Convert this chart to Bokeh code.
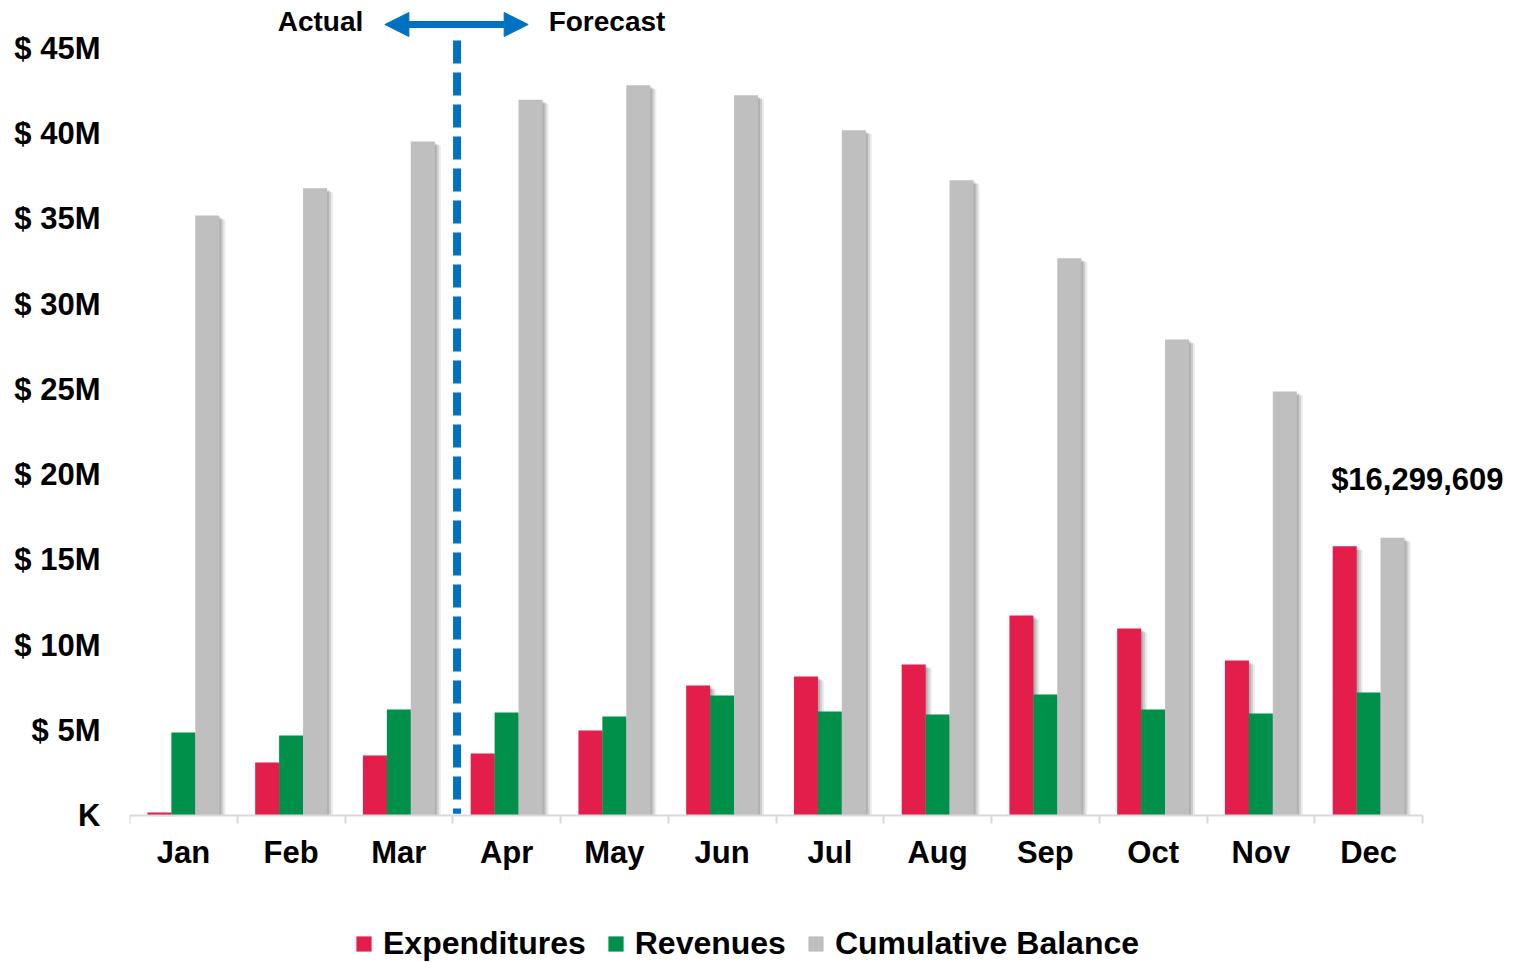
from bokeh.plotting import figure
from bokeh.models import (Range1d, FixedTicker, Label, Arrow, NormalHead,
                          Legend, LegendItem)
from bokeh.embed import file_html
from bokeh.resources import INLINE

# ---------------- data (values in $ millions) ----------------
months = ["Jan", "Feb", "Mar", "Apr", "May", "Jun",
          "Jul", "Aug", "Sep", "Oct", "Nov", "Dec"]
expenditures = [0.18, 3.11, 3.52, 3.64, 4.99, 7.63, 8.16, 8.86, 11.74, 10.97, 9.10, 15.79]
revenues = [4.87, 4.69, 6.22, 6.04, 5.81, 7.04, 6.10, 5.93, 7.10, 6.22, 5.99, 7.22]
cumulative_balance = [35.20, 36.80, 39.55, 42.00, 42.84, 42.25, 40.20, 37.27,
                      32.69, 27.93, 24.88, 16.30]
dec_balance_exact = 16299609
n_actual_months = 3
y_ticks = [0, 5, 10, 15, 20, 25, 30, 35, 40, 45]
y_tick_labels = ["K", "$ 5M", "$ 10M", "$ 15M", "$ 20M", "$ 25M",
                 "$ 30M", "$ 35M", "$ 40M", "$ 45M"]

# ---------------- styling ----------------
RED = "#E41E4B"
GREEN = "#00904A"
GRAY = "#BFBFBF"
BLUE = "#0070C0"
AXIS = "#D9D9D9"
FONT = "Liberation Sans"

W, H = 1514, 962
LEFT = 129                   # frame left edge (px)
AX_RIGHT = 1422              # end of the category axis (px)
AX_Y = 815                   # pixel row of the zero line
px_x = 12 / (AX_RIGHT - LEFT)    # data units per pixel (x)
px_y = 45 / (AX_Y - 48)          # data units per pixel (y)

p = figure(width=W, height=H, output_backend="svg", toolbar_location=None,
           x_range=Range1d(0, (W - LEFT) * px_x),
           y_range=Range1d(-(H - AX_Y) * px_y, AX_Y * px_y),
           min_border_left=LEFT, min_border_right=0, min_border_top=0,
           min_border_bottom=0)
p.outline_line_color = None
p.xgrid.visible = False
p.ygrid.visible = False
p.background_fill_color = "white"

centers = [i + 0.5 for i in range(len(months))]
bw = 0.223
off = 0.222
series = [(expenditures, -off, RED, "Expenditures"),
          (revenues, 0.0, GREEN, "Revenues"),
          (cumulative_balance, off, GRAY, "Cumulative Balance")]

# soft drop shadows
for vals, o, col, name in series:
    for dx, dy, a in [(2, 2, 0.14), (4, 3, 0.12), (6, 4, 0.08)]:
        p.vbar(x=[c + o + dx * px_x for c in centers], width=bw,
               top=[v - dy * px_y for v in vals], bottom=0,
               fill_color="black", fill_alpha=a, line_color=None)

renderers = {}
for vals, o, col, name in series:
    r = p.vbar(x=[c + o for c in centers], width=bw, top=vals, bottom=0,
               fill_color=col, line_color=None)
    renderers[name] = r

# divider line actual / forecast
xdiv = n_actual_months + 0.04
p.segment(x0=[xdiv], y0=[(AX_Y - 40) * px_y], x1=[xdiv], y1=[0.1],
          line_color=BLUE, line_width=8, line_dash="23 9", line_cap="butt")

# double arrow
ya = (AX_Y - 24) * px_y
p.add_layout(Arrow(start=NormalHead(size=24, fill_color=BLUE, line_color=BLUE),
                   end=NormalHead(size=24, fill_color=BLUE, line_color=BLUE),
                   x_start=xdiv - 0.67, y_start=ya, x_end=xdiv + 0.66, y_end=ya,
                   line_color=BLUE, line_width=7))

yt = (AX_Y - 21) * px_y
p.add_layout(Label(x=xdiv - 0.87, y=yt, text="Actual", text_align="right",
                   text_baseline="middle", text_font=FONT, text_font_style="bold",
                   text_font_size="28px", text_color="black"))
p.add_layout(Label(x=xdiv + 0.85, y=yt, text="Forecast", text_align="left",
                   text_baseline="middle", text_font=FONT, text_font_style="bold",
                   text_font_size="28px", text_color="black"))

# data label for the December balance
p.add_layout(Label(x=centers[-1] + off + 0.23, y=cumulative_balance[-1] + 3.4,
                   text="${:,}".format(dec_balance_exact), text_align="center",
                   text_baseline="middle", text_font=FONT, text_font_style="bold",
                   text_font_size="31px", text_color="black"))

# x axis at the zero line
xa = p.xaxis[0]
xa.fixed_location = 0
xa.bounds = (0, len(months))
xa.ticker = FixedTicker(ticks=centers, minor_ticks=list(range(len(months) + 1)))
xa.major_label_overrides = {c: m for c, m in zip(centers, months)}
xa.axis_line_color = AXIS
xa.axis_line_width = 2
xa.major_tick_line_color = None
xa.major_tick_out = 0
xa.major_tick_in = 0
xa.minor_tick_line_color = AXIS
xa.minor_tick_line_width = 2
xa.minor_tick_out = 8
xa.minor_tick_in = 0
xa.major_label_standoff = 11
xa.major_label_text_font = FONT
xa.major_label_text_font_style = "bold"
xa.major_label_text_font_size = "31px"
xa.major_label_text_color = "black"

yax = p.yaxis[0]
yax.ticker = FixedTicker(ticks=y_ticks, minor_ticks=[])
yax.major_label_overrides = {t: l for t, l in zip(y_ticks, y_tick_labels)}
yax.axis_line_color = None
yax.major_tick_line_color = None
yax.minor_tick_line_color = None
yax.major_tick_out = 0
yax.major_tick_in = 0
yax.major_label_standoff = 29
yax.major_label_text_font = FONT
yax.major_label_text_font_style = "bold"
yax.major_label_text_font_size = "31px"
yax.major_label_text_color = "black"

legend = Legend(items=[LegendItem(label=n, renderers=[renderers[n]])
                       for n in ["Expenditures", "Revenues", "Cumulative Balance"]],
                orientation="horizontal", location=(225, 0),
                glyph_width=19, glyph_height=19, label_height=30,
                label_standoff=10, spacing=20,
                padding=0, margin=0, border_line_color=None,
                background_fill_alpha=0,
                label_text_font=FONT, label_text_font_style="bold",
                label_text_font_size="32px", label_text_color="black")
p.add_layout(legend, "center")

open("out.html", "w").write(file_html(p, INLINE))
